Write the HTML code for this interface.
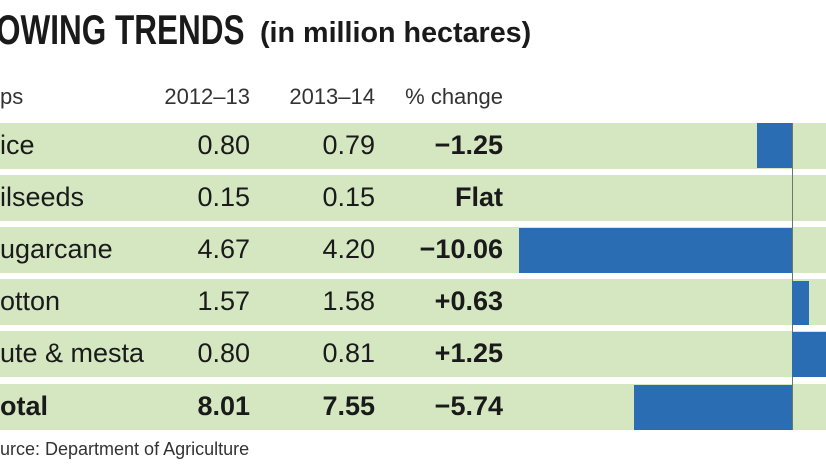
<!DOCTYPE html>
<html><head><style>
body{margin:0;width:826px;height:465px;overflow:hidden;background:#fff;font-family:"Liberation Sans Narrow","Liberation Sans",sans-serif;color:#1a1a1a;position:relative}
.a{position:absolute;white-space:nowrap}
.row{position:absolute;left:0;width:826px;height:46px;background:#d4e7c1}
.bar{position:absolute;background:#2a6db3}
.t{font-size:27px;line-height:46px}
.r{text-align:right}
</style></head><body>
<div class="a" style="left:-4px;top:6px;font-size:42px;font-weight:bold;transform:scaleX(0.75);transform-origin:0 0">OWING TRENDS</div>
<div class="a" style="left:260px;top:17px;font-size:29px;font-weight:bold;transform:scaleX(0.99);transform-origin:0 0">(in million hectares)</div>
<div class="a" style="left:0;top:84px;font-size:22px;color:#333">ps</div>
<div class="a r" style="left:130px;width:120px;top:84px;font-size:22px;color:#333">2012–13</div>
<div class="a r" style="left:255px;width:120px;top:84px;font-size:22px;color:#333">2013–14</div>
<div class="a r" style="left:383px;width:120px;top:84px;font-size:22px;color:#333">% change</div>

<div class="row" style="top:123px"></div>
<div class="row" style="top:175px"></div>
<div class="row" style="top:227px"></div>
<div class="row" style="top:279px"></div>
<div class="row" style="top:331px"></div>
<div class="row" style="top:384px"></div>
<div class="a" style="left:792px;top:123px;width:1px;height:307px;background:#6a7a6a"></div>
<div class="bar" style="left:757px;width:35px;top:123px;height:45px"></div>
<div class="bar" style="left:519px;width:273px;top:228px;height:45px"></div>
<div class="bar" style="left:792px;width:17px;top:281px;height:44px"></div>
<div class="bar" style="left:792px;width:34px;top:332px;height:45px"></div>
<div class="bar" style="left:634px;width:158px;top:385px;height:45px"></div>

<div class="a t" style="left:0;top:122px">ice</div>
<div class="a t" style="left:0;top:174px">ilseeds</div>
<div class="a t" style="left:0;top:226px">ugarcane</div>
<div class="a t" style="left:0;top:278px">otton</div>
<div class="a t" style="left:0;top:330px">ute &amp; mesta</div>
<div class="a t" style="left:0;top:383px;font-weight:bold">otal</div>

<div class="a t r" style="left:130px;width:120px;top:122px">0.80</div>
<div class="a t r" style="left:130px;width:120px;top:174px">0.15</div>
<div class="a t r" style="left:130px;width:120px;top:226px">4.67</div>
<div class="a t r" style="left:130px;width:120px;top:278px">1.57</div>
<div class="a t r" style="left:130px;width:120px;top:330px">0.80</div>
<div class="a t r" style="left:130px;width:120px;top:383px;font-weight:bold">8.01</div>

<div class="a t r" style="left:255px;width:120px;top:122px">0.79</div>
<div class="a t r" style="left:255px;width:120px;top:174px">0.15</div>
<div class="a t r" style="left:255px;width:120px;top:226px">4.20</div>
<div class="a t r" style="left:255px;width:120px;top:278px">1.58</div>
<div class="a t r" style="left:255px;width:120px;top:330px">0.81</div>
<div class="a t r" style="left:255px;width:120px;top:383px;font-weight:bold">7.55</div>

<div class="a t r" style="left:383px;width:120px;top:122px;font-weight:bold">−1.25</div>
<div class="a t r" style="left:383px;width:120px;top:174px;font-weight:bold">Flat</div>
<div class="a t r" style="left:383px;width:120px;top:226px;font-weight:bold">−10.06</div>
<div class="a t r" style="left:383px;width:120px;top:278px;font-weight:bold">+0.63</div>
<div class="a t r" style="left:383px;width:120px;top:330px;font-weight:bold">+1.25</div>
<div class="a t r" style="left:383px;width:120px;top:383px;font-weight:bold">−5.74</div>

<div class="a" style="left:0;top:439px;font-size:18px;color:#333">urce: Department of Agriculture</div>
</body></html>
